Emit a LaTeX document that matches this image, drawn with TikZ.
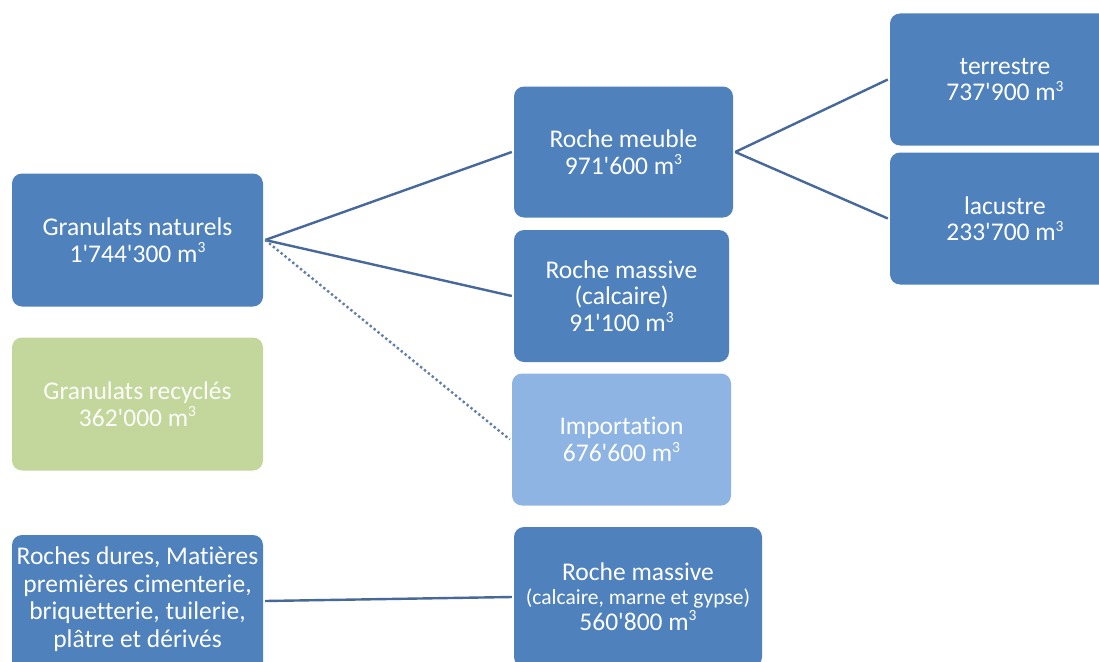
\documentclass[tikz,border=0pt]{standalone}
\usepackage{fontspec}
\setmainfont{Carlito}[Ligatures={NoCommon}]
\usetikzlibrary{calc}
\definecolor{mainblue}{HTML}{4F81BD}
\definecolor{lightblue}{HTML}{8EB4E3}
\definecolor{lightgreen}{HTML}{C3D69B}
\definecolor{linecol}{HTML}{46689A}
\newcommand{\q}{\textquotesingle}
\newcommand{\mc}{m\raisebox{0.36em}[0pt][0pt]{\fontsize{15.5}{15.5}\selectfont 3}}
\tikzset{
  box/.style={rectangle, rounded corners=10pt, fill=mainblue, text=white, align=center,
    inner sep=0pt, font=\fontsize{25.5}{26.5}\selectfont},
  lbl/.style={text=white, inner sep=0pt, anchor=base, font=\fontsize{25.5}{26.5}\selectfont},
  conn/.style={draw=linecol, line width=2.4pt},
  dotconn/.style={draw=linecol!85, line width=2.4pt, dash pattern=on 2.4pt off 2.6pt},
}
\begin{document}
\begin{tikzpicture}[x=1pt,y=-1pt]
\useasboundingbox (0,0) rectangle (1099,661);
\begin{scope}
\clip (0,0) rectangle (1099,661);
% left column
\node[box, minimum width=251pt, minimum height=133pt] (nat) at (137.5,240) {Granulats naturels\\1\q744\q300 \mc};
\node[box, fill=lightgreen, text=white!95!lightgreen, minimum width=251pt, minimum height=133pt] (rec) at (137.5,404) {Granulats recyclés\\362\q000 \mc};
\node[box, minimum width=251pt, minimum height=140pt] (dur) at (137.5,605) {};
\node[font=\fontsize{25.5}{27.5}\selectfont, text=white, align=center, inner sep=0pt] (durt) at (137.5,599) {Roches dures, Matières\\premières cimenterie,\\briquetterie, tuilerie,\\plâtre et dérivés};
% middle column
\node[box, minimum width=219pt, minimum height=131pt] (meu) at (623.5,152) {Roche meuble\\971\q600 \mc};
\node[box, minimum width=215pt, minimum height=132pt] (mas) at (621.5,296) {Roche massive\\(calcaire)\\91\q100 \mc};
\node[box, fill=lightblue, minimum width=219pt, minimum height=132pt] (imp) at (621.5,439.5) {Importation\\676\q600 \mc};
\node[box, minimum width=248pt, minimum height=140pt] (mas2) at (638,597) {};
\node[lbl] (mas2a) at (638,580) {Roche massive};
\node[lbl, font=\fontsize{21.5}{22}\selectfont] (mas2b) at (638,604) {(calcaire, marne et gypse)};
\node[lbl] (mas2c) at (638,630) {560\q800 \mc};
% right column
\node[box, minimum width=230pt, minimum height=132pt] (ter) at (1005,79.5) {terrestre\\737\q900 \mc};
\node[box, minimum width=230pt, minimum height=132pt] (lac) at (1005,218.5) {lacustre\\233\q700 \mc};
\end{scope}
% connectors
\coordinate (nR) at ([xshift=2pt]nat.east);
\coordinate (mR) at ([xshift=2pt]meu.east);
\coordinate (dR) at ($(dur.east)+(2,-4)$);
\draw[conn] (nR) -- ([xshift=-2pt]meu.west);
\draw[conn] (nR) -- ([xshift=-2pt]mas.west);
\draw[dotconn] (nR) -- ([xshift=-2pt]imp.west);
\draw[conn] (mR) -- ([xshift=-2pt]ter.west);
\draw[conn] (mR) -- ([xshift=-2pt]lac.west);
\draw[conn] (dR) -- ([xshift=-2pt]mas2.west);
\end{tikzpicture}
\end{document}
